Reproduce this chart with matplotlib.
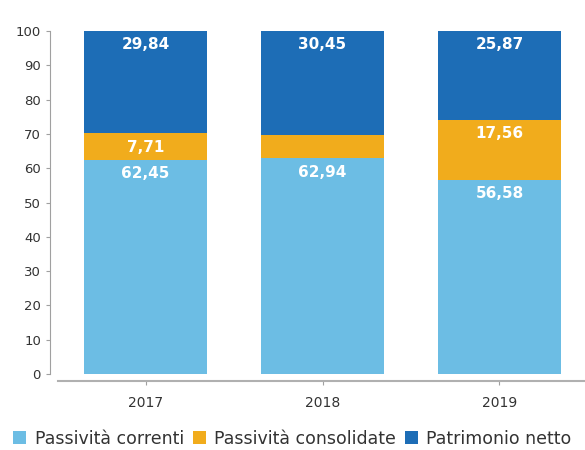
import matplotlib.pyplot as plt
import numpy as np

years = ['2017', '2018', '2019']
correnti = [62.45, 62.94, 56.58]
consolidate = [7.71, 6.61, 17.56]
patrimonio = [29.84, 30.45, 25.87]
labels_correnti = ['62,45', '62,94', '56,58']
labels_consolidate = ['7,71', '', '17,56']
labels_patrimonio = ['29,84', '30,45', '25,87']

colors = ['#6cbde4', '#f1ac1c', '#1d6db6']
names = ['Passività correnti', 'Passività consolidate', 'Patrimonio netto']

fig = plt.figure(figsize=(5.85, 4.5), dpi=100)
ax = fig.add_axes([50 / 585, 76 / 450, 545 / 585, 343 / 450])

x = np.arange(len(years))
w = 0.695
b1 = ax.bar(x, correnti, w, color=colors[0], label=names[0])
bottom2 = np.array(correnti)
b2 = ax.bar(x, consolidate, w, bottom=bottom2, color=colors[1], label=names[1])
bottom3 = bottom2 + np.array(consolidate)
b3 = ax.bar(x, patrimonio, w, bottom=bottom3, color=colors[2], label=names[2])

for bars, labs in [(b1, labels_correnti), (b2, labels_consolidate), (b3, labels_patrimonio)]:
    for rect, lab in zip(bars, labs):
        if not lab:
            continue
        top = rect.get_y() + rect.get_height()
        ax.annotate(lab, (rect.get_x() + rect.get_width() / 2, top),
                    xytext=(0, -10), textcoords='offset points',
                    ha='center', va='center', color='white',
                    fontsize=11, fontweight='bold')

ax.set_xlim(-0.54, 2.54)
ax.set_ylim(0, 100)
ax.set_yticks(range(0, 101, 10))
ax.set_xticks(x)
ax.set_xticklabels(years)

for s in ['top', 'right']:
    ax.spines[s].set_visible(False)
ax.spines['left'].set_color('#a0a0a0')
ax.spines['bottom'].set_color('#b0b0b0')
ax.spines['bottom'].set_linewidth(1.5)
ax.spines['bottom'].set_position(('outward', 5))
ax.spines['bottom'].set_bounds(-0.495, 2.54)
ax.tick_params(axis='y', colors='#a0a0a0', labelcolor='#333333', labelsize=9.5, length=3)
ax.tick_params(axis='x', colors='#a0a0a0', labelcolor='#333333', labelsize=10, length=3, pad=8)

fig.legend(handles=[b1, b2, b3], loc='upper left', bbox_to_anchor=(0.022, 0.045),
           ncol=3, frameon=False, fontsize=12.5, handlelength=0.75, handleheight=0.75,
           handletextpad=0.5, columnspacing=0.5, borderaxespad=0, borderpad=0,
           labelcolor='#333333')

fig.savefig('out.png', dpi=100)
